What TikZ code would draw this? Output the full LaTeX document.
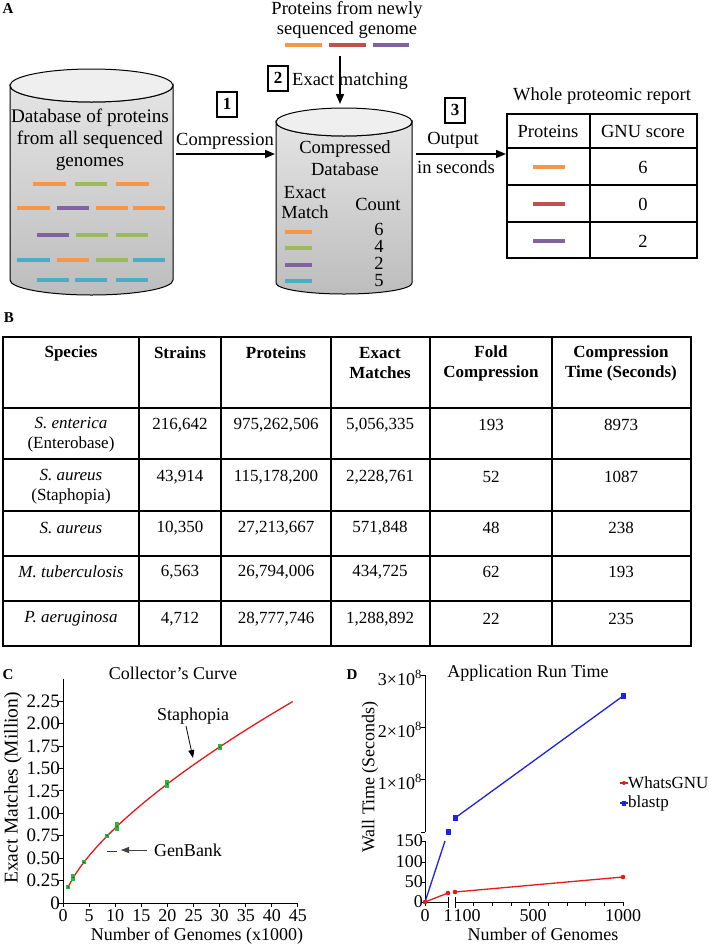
\documentclass[tikz,border=0pt]{standalone}
\usepackage{fontspec}
\setmainfont{Liberation Serif}
\usetikzlibrary{arrows.meta,calc}
\definecolor{corange}{HTML}{F79646}
\definecolor{cgreen}{HTML}{9BBB59}
\definecolor{cpurple}{HTML}{8064A2}
\definecolor{ccyan}{HTML}{4BACC6}
\definecolor{cred}{HTML}{C0504D}
\definecolor{cylTop}{HTML}{E4E4E4}
\definecolor{cylBot}{HTML}{BDBDBD}
\definecolor{cylCap}{HTML}{EFEFEF}
\definecolor{pgreen}{HTML}{2DB83A}
\definecolor{pred}{HTML}{E41A1C}
\definecolor{pblue}{HTML}{1F22E0}
\newcommand\fA{\fontsize{18.5}{22}\selectfont}
\newcommand\fB{\fontsize{17}{20}\selectfont}
\newcommand\fC{\fontsize{18}{21}\selectfont}
\tikzset{
  pdash/.style={line width=4pt},
  arr/.style={line width=1.6pt,-{Triangle[length=10pt,width=8pt]}},
  thinarr/.style={line width=0.8pt,-{Triangle[length=8pt,width=6pt]}},
  numbox/.style={draw,line width=2pt,minimum width=20pt,minimum height=25pt,inner sep=0pt,font=\fB\bfseries},
  panel/.style={font=\fontsize{15}{18}\selectfont\bfseries,inner sep=0pt},
  ta/.style={font=\fA,inner sep=0pt,align=center},
  tb/.style={font=\fB,inner sep=0pt,align=center},
  tbh/.style={font=\fB\bfseries,inner sep=0pt,align=center},
  tc/.style={font=\fC,inner sep=0pt,align=center},
  gridl/.style={line width=1.2pt},
  axl/.style={line width=1pt},
}
\begin{document}
\begin{tikzpicture}[x=1pt,y=1pt]
\useasboundingbox (0,0) rectangle (709,-946);
\fill[white] (0,0) rectangle (709,-946);
% ---------------- Panel A ----------------
\node[panel] (lA) at (8,-9) {A};
% left cylinder
\path[draw=black,line width=1pt,top color=cylTop,bottom color=cylBot]
  (10,-85.5) -- (10,-280) arc[start angle=180,end angle=360,x radius=81.5,y radius=15]
  -- (173,-85.5) arc[start angle=0,end angle=-180,x radius=81.5,y radius=16.5] -- cycle;
\draw[line width=1pt,fill=cylCap] (91.5,-85.5) ellipse[x radius=81.5,y radius=16.5];
\node[ta,font=\fontsize{19.2}{22}\selectfont] (dbtxt) at (90,-140) {Database of proteins\\from all sequenced\\genomes};
% dashes left cylinder
\draw[pdash,corange] (33,-184) -- (66,-184);
\draw[pdash,cgreen] (75,-184) -- (107,-184);
\draw[pdash,corange] (116,-184) -- (149,-184);
\draw[pdash,corange] (17,-208) -- (50,-208);
\draw[pdash,cpurple] (57,-208) -- (89,-208);
\draw[pdash,corange] (96,-208) -- (128,-208);
\draw[pdash,corange] (133,-208) -- (165,-208);
\draw[pdash,cpurple] (37,-235) -- (69,-235);
\draw[pdash,cgreen] (76,-235) -- (108,-235);
\draw[pdash,cgreen] (116,-235) -- (148,-235);
\draw[pdash,ccyan] (17,-260) -- (50,-260);
\draw[pdash,corange] (57,-260) -- (89,-260);
\draw[pdash,cgreen] (96,-260) -- (128,-260);
\draw[pdash,ccyan] (133,-260) -- (165,-260);
\draw[pdash,ccyan] (37,-280) -- (69,-280);
\draw[pdash,ccyan] (75,-280) -- (107,-280);
\draw[pdash,ccyan] (116,-280) -- (148,-280);
% middle cylinder
\path[draw=black,line width=1pt,top color=cylTop,bottom color=cylBot]
  (276,-122) -- (276,-283) arc[start angle=180,end angle=360,x radius=68,y radius=11]
  -- (412,-122) arc[start angle=0,end angle=-180,x radius=68,y radius=14] -- cycle;
\draw[line width=1pt,fill=cylCap] (344,-122) ellipse[x radius=68,y radius=14];
\node[ta] (cdb) at (345,-158) {Compressed\\Database};
\node[ta,font=\fontsize{18.5}{20}\selectfont] (em) at (305,-203) {Exact\\Match};
\node[ta] (cnt) at (378,-204) {Count};
\node[ta,font=\fontsize{18.5}{16.7}\selectfont] (vals) at (379,-255) {6\\4\\2\\5};
\draw[pdash,corange] (285,-232) -- (312,-232);
\draw[pdash,cgreen] (285,-248) -- (312,-248);
\draw[pdash,cpurple] (285,-265) -- (312,-265);
\draw[pdash,ccyan] (285,-281) -- (312,-281);
% new proteins
\node[ta,font=\fontsize{18.5}{20}\selectfont] (newp) at (347,-20) {Proteins from newly\\sequenced genome};
\draw[pdash,corange] (285,-45) -- (322,-45);
\draw[pdash,cred] (329,-45) -- (366,-45);
\draw[pdash,cpurple] (373,-45) -- (409,-45);
% arrow 2
\coordinate (dtop) at (340,-56);
\coordinate (dbot) at (340,-104);
\node[ta,anchor=west] (exm) at (292,-81) {Exact matching};
\draw[arr] (dtop) -- (dbot);
\node[numbox] (n2) at (278,-78) {2};
% arrow 1
\coordinate (c1R) at (176,-154);
\coordinate (c2L) at (275,-154);
\draw[arr] (c1R) -- (c2L);
\node[ta] (comp) at (225,-141) {Compression};
\node[numbox] (n1) at (227,-104) {1};
% arrow 3
\coordinate (c2R) at (416,-154);
\coordinate (tabL) at (506,-154);
\draw[arr] (c2R) -- (tabL);
\node[ta] (outp) at (453,-140) {Output};
\node[ta] (insec) at (456,-167) {in seconds};
\node[numbox] (n3) at (455,-110) {3};
% report table
\node[ta] (wpr) at (602,-96) {Whole proteomic report};
\draw[gridl] (507,-114) rectangle (697,-258);
\draw[gridl] (590,-114) -- (590,-258);
\draw[gridl] (507,-148) -- (697,-148);
\draw[gridl] (507,-185) -- (697,-185);
\draw[gridl] (507,-222) -- (697,-222);
\node[ta] (hp) at (548,-131) {Proteins};
\node[ta] (hg) at (643,-131) {GNU score};
\draw[pdash,corange] (533,-167) -- (565,-167);
\draw[pdash,cred] (533,-204) -- (565,-204);
\draw[pdash,cpurple] (533,-241) -- (565,-241);
\node[ta] (r6) at (643,-167) {6};
\node[ta] (r0) at (643,-204) {0};
\node[ta] (r2) at (643,-241) {2};
% ---------------- Panel B ----------------
\node[panel] (lB) at (9,-318) {B};
\draw[gridl] (3,-337) rectangle (691,-646);
\foreach \xx in {139,221,331,430,552} \draw[gridl] (\xx,-337) -- (\xx,-646);
\foreach \yy in {408,459,511,556,601} \draw[gridl] (3,-\yy) -- (691,-\yy);
\node[tbh] (h1) at (71,-353) {Species};
\node[tbh] (h2) at (180,-353) {Strains};
\node[tbh] (h3) at (276,-353) {Proteins};
\node[tbh] (h4) at (380,-363) {Exact\\Matches};
\node[tbh] (h5) at (491,-363) {Fold\\Compression};
\node[tbh] (h6) at (621,-363) {Compression\\Time (Seconds)};
% row 1
\node[tb] (a1) at (71,-435) {\textit{S. enterica}\\(Enterobase)};
\node[tb] (a2) at (180,-425) {216,642};
\node[tb] (a3) at (276,-425) {975,262,506};
\node[tb] (a4) at (380,-425) {5,056,335};
\node[tb] (a5) at (491,-425) {193};
\node[tb] (a6) at (621,-425) {8973};
% row 2
\node[tb] (b1) at (71,-487) {\textit{S. aureus}\\(Staphopia)};
\node[tb] (b2) at (180,-477) {43,914};
\node[tb] (b3) at (276,-477) {115,178,200};
\node[tb] (b4) at (380,-477) {2,228,761};
\node[tb] (b5) at (491,-477) {52};
\node[tb] (b6) at (621,-477) {1087};
% row 3
\node[tb] (c1) at (71,-528) {\textit{S. aureus}};
\node[tb] (c2) at (180,-528) {10,350};
\node[tb] (c3) at (276,-528) {27,213,667};
\node[tb] (c4) at (380,-528) {571,848};
\node[tb] (c5) at (491,-528) {48};
\node[tb] (c6) at (621,-528) {238};
% row 4
\node[tb] (d1) at (71,-572) {\textit{M. tuberculosis}};
\node[tb] (d2) at (180,-572) {6,563};
\node[tb] (d3) at (276,-572) {26,794,006};
\node[tb] (d4) at (380,-572) {434,725};
\node[tb] (d5) at (491,-572) {62};
\node[tb] (d6) at (621,-572) {193};
% row 5
\node[tb] (e1) at (71,-619) {\textit{P. aeruginosa}};
\node[tb] (e2) at (180,-619) {4,712};
\node[tb] (e3) at (276,-619) {28,777,746};
\node[tb] (e4) at (380,-619) {1,288,892};
\node[tb] (e5) at (491,-619) {22};
\node[tb] (e6) at (621,-619) {235};
% ---------------- Panel C ----------------
\node[panel] (lC) at (8,-675) {C};
\node[tc] (tC) at (173,-673) {Collector's Curve};
\draw[axl] (63,-679) -- (63,-903) -- (298,-903);
\foreach \v/\l in {0/0,0.25/0.25,0.5/0.50,0.75/0.75,1/1.00,1.25/1.25,1.5/1.50,1.75/1.75,2/2.00,2.25/2.25}{
  \draw[axl] (59,{-903+89.7*\v}) -- (63,{-903+89.7*\v});
  \node[tc,font=\fontsize{19}{21}\selectfont,anchor=east] at (60,{-903+89.7*\v}) {\l};
}
\foreach \v in {0,5,...,45}{
  \draw[axl] ({63+5.222*\v},-903) -- ({63+5.222*\v},-907);
  \node[tc] at ({63+5.222*\v},-915.5) {\v};
}
\node[tc] (xC) at (197,-936) {Number of Genomes (x1000)};
\node[tc,font=\fontsize{19.5}{21}\selectfont,rotate=90] (yC) at (13,-788) {Exact Matches (Million)};
\begin{scope}[shift={(63,-903)},x=5.222pt,y=89.7pt]
  \draw[pred,line width=1.3pt] plot[domain=1:44,samples=60,smooth] (\x,{0.18*\x^0.667});
  \foreach \px/\e in {1/0.012,2/0.025,4/0.012,8.5/0.012,10.3/0.035,20/0.035,30/0.025}{
    \draw[pgreen,line width=4pt] (\px,{0.18*\px^0.667-\e-0.012}) -- (\px,{0.18*\px^0.667+\e+0.012});
    \fill[black!70] (\px,{0.18*\px^0.667}) circle[radius=1pt];
  }
  \draw[pblue,line width=1.6pt] (8.5,0.575) -- (10.3,0.575);
\end{scope}
\node[tc] (gb) at (188,-850) {GenBank};
\coordinate (gbtail) at (147,-850);
\coordinate (gbhead) at (121,-850);
\draw[thinarr,black!75] (gbtail) -- (gbhead);
\node[tc] (st) at (193,-716) {Staphopia};
\coordinate (sttail) at (186,-726);
\coordinate (sthead) at (193,-758);
\draw[thinarr] (sttail) -- (sthead);
% ---------------- Panel D ----------------
\node[panel] (lD) at (352,-675) {D};
\node[tc] (tD) at (528,-673) {Application Run Time};
% y axis upper
\draw[axl] (425,-675) -- (425,-832);
\foreach \yy in {675,727,779,832} \draw[axl] (421,-\yy) -- (425,-\yy);
\node[tc,anchor=east] (y3) at (422,-678) {3×10\textsuperscript{8}};
\node[tc,anchor=east] (y2) at (422,-730) {2×10\textsuperscript{8}};
\node[tc,anchor=east] (y1) at (422,-782) {1×10\textsuperscript{8}};
% y axis lower
\draw[axl] (425,-841) -- (425,-902);
\foreach \yy in {841,862,882,902} \draw[axl] (421,-\yy) -- (425,-\yy);
\node[tc,anchor=east] (y150) at (423,-841) {150};
\node[tc,anchor=east] (y100) at (423,-862) {100};
\node[tc,anchor=east] (y50) at (423,-882) {50};
\node[tc,anchor=east] (y0) at (423,-902) {0};
% x axis
\draw[axl] (425,-902) -- (448,-902);
\draw[axl] (425,-902) -- (425,-906);
\draw[axl] (448,-897) -- (448,-908);
\draw[axl] (455,-897) -- (455,-908);
\draw[axl] (455,-902) -- (623,-902);
\foreach \i in {1,...,9} \draw[axl] ({455+18.67*\i},-902) -- ({455+18.67*\i},-906);
\node[tc] (x0) at (425,-916) {0};
\node[tc] (x1) at (448,-916) {1};
\node[tc] (x100) at (467,-916) {100};
\node[tc] (x500) at (533,-916) {500};
\node[tc] (x1000) at (623,-916) {1000};
\node[tc] (xD) at (543,-934) {Number of Genomes};
\node[tc,rotate=90] (yD) at (370,-777) {Wall Time (Seconds)};
% blastp
\draw[pblue,line width=1.3pt] (425,-902) -- (445,-841);
\draw[pblue,line width=1.3pt] (455,-818) -- (623,-696);
\foreach \p in {(448,-832),(455,-818),(623,-696)} \fill[pblue] \p ++(-2.5,-3) rectangle ++(5,6);
% WhatsGNU
\draw[pred,line width=1.3pt] (425,-902) -- (448,-893);
\draw[pred,line width=1.3pt] (455,-892) -- (623,-877);
\foreach \p in {(425,-902),(448,-893),(455,-892),(623,-877)} \fill[pred] \p circle[radius=2.3pt];
% legend
\draw[pred,line width=1.3pt] (620,-783) -- (628,-783);
\fill[pred] (624,-783) circle[radius=2pt];
\node[tc,font=\fontsize{17}{20}\selectfont,anchor=west] (lg1) at (628,-783) {WhatsGNU};
\draw[pblue,line width=1.3pt] (620,-803) -- (628,-803);
\fill[pblue] (622,-805.5) rectangle ++(4,5);
\node[tc,font=\fontsize{17}{20}\selectfont,anchor=west] (lg2) at (628,-803) {blastp};
\end{tikzpicture}
\end{document}
